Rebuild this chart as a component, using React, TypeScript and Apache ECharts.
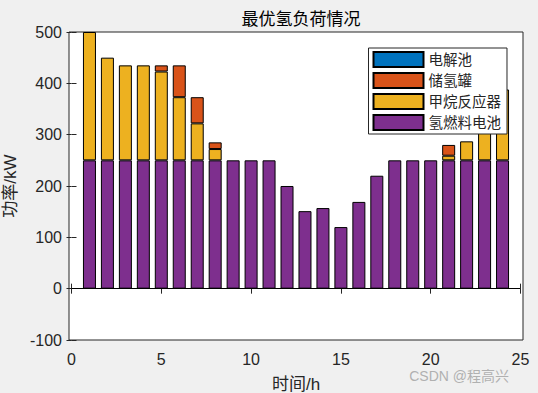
import React, { useEffect, useRef } from "react";
import * as echarts from "echarts";

const hourTicks = ["0", "1", "2", "3", "4", "5", "6", "7", "8", "9", "10", "11", "12", "13", "14", "15", "16", "17", "18", "19", "20", "21", "22", "23", "24", "25"];
// values for hours 1..24
const electrolyzer = [0, 0, 0, 0, 0, 0, 0, 0, 0, 0, 0, 0, 0, 0, 0, 0, 0, 0, 0, 0, 0, 0, 0, 0];
const storageTank = [0, 0, 0, 0, 12, 62, 51, 13, 0, 0, 0, 0, 0, 0, 0, 0, 0, 0, 0, 0, 21, 0, 0, 0];
const methaneReactor = [250, 200, 185, 185, 173, 123, 72, 22, 0, 0, 0, 0, 0, 0, 0, 0, 0, 0, 0, 0, 9, 37, 90, 138];
const fuelCell = [250, 250, 250, 250, 250, 250, 250, 250, 250, 250, 250, 200, 151, 157, 120, 169, 220, 250, 250, 250, 250, 250, 250, 250];

const seriesNames = ["电解池", "储氢罐", "甲烷反应器", "氢燃料电池"];
const colors = ["#0072BD", "#D95319", "#EDB120", "#7E2F8E"];

const FONT = "'Liberation Sans', 'Noto Sans CJK SC', sans-serif";
const TXT = "#262626";

export default function App() {
  const ref = useRef<HTMLDivElement>(null);
  useEffect(() => {
    if (!ref.current) return;
    const chart = echarts.init(ref.current, undefined, { renderer: "svg" });
    // pad with empty slots for hour 0 and hour 25 on the category axis;
    // zero-height segments get no border so stack tops are not thickened
    const padded = (arr: number[]) => [
      "-",
      ...arr.map((v) => (v === 0 ? { value: 0, itemStyle: { borderWidth: 0 } } : v)),
      "-",
    ];
    const mk = (name: string, color: string, arr: number[], extra: any = {}) => ({
      name,
      type: "bar",
      stack: "total",
      xAxisIndex: 2,
      yAxisIndex: 0,
      barWidth: 13,
      itemStyle: { color, borderColor: "#000", borderWidth: 1 },
      data: padded(arr),
      ...extra,
    });
    const tickAxisCommon = {
      axisLine: { show: false },
      splitLine: { show: false },
      axisTick: { show: true, inside: true, length: 5, lineStyle: { color: TXT } },
    };
    chart.setOption({
      animation: false,
      backgroundColor: "#f0f0f0",
      textStyle: { fontFamily: FONT },
      title: {
        text: "最优氢负荷情况",
        left: 296,
        top: 6,
        textAlign: "center",
        textStyle: { fontSize: 17, fontWeight: "normal", color: "#000", fontFamily: FONT },
      },
      legend: {
        data: seriesNames,
        orient: "vertical",
        right: 31,
        top: 48,
        itemWidth: 50,
        itemHeight: 15,
        itemGap: 4,
        padding: [3, 6, 3, 4],
        backgroundColor: "#fff",
        borderColor: "#262626",
        borderWidth: 1,
        borderRadius: 0,
        textStyle: { fontSize: 14.5, color: TXT, fontFamily: FONT },
        icon: "rect",
      },
      grid: { left: 71.5, right: 17.5, top: 32, bottom: 53, show: false, outerBoundsMode: "none", containLabel: false },
      xAxis: [
        {
          type: "value",
          min: 0,
          max: 25,
          interval: 5,
          position: "bottom",
          name: "时间/h",
          nameLocation: "middle",
          nameGap: 36,
          nameTextStyle: { fontSize: 17, color: TXT, fontFamily: FONT },
          axisLabel: { fontSize: 16, color: TXT, margin: 11, fontFamily: FONT },
          ...tickAxisCommon,
        },
        {
          type: "value",
          min: 0,
          max: 25,
          interval: 5,
          position: "top",
          axisLabel: { show: false },
          ...tickAxisCommon,
        },
        {
          type: "category",
          data: hourTicks,
          boundaryGap: false,
          show: false,
        },
      ],
      yAxis: [
        {
          type: "value",
          min: -100,
          max: 500,
          interval: 100,
          position: "left",
          offset: 2.5,
          name: "功率/kW",
          nameLocation: "middle",
          nameGap: 46,
          nameRotate: 90,
          nameTextStyle: { fontSize: 17, color: TXT, fontFamily: FONT },
          axisLabel: { fontSize: 16, color: TXT, margin: 7, fontFamily: FONT },
          ...tickAxisCommon,
        },
        {
          type: "value",
          min: -100,
          max: 500,
          interval: 100,
          position: "right",
          offset: 2.5,
          axisLabel: { show: false },
          ...tickAxisCommon,
        },
      ],
      graphic: [
        {
          type: "rect",
          z: -10,
          silent: true,
          shape: { x: 69, y: 32, width: 454, height: 308 },
          style: { fill: "#fff", stroke: TXT, lineWidth: 1 },
        },
        {
          type: "text",
          right: 29,
          top: 369,
          silent: true,
          style: { text: "CSDN @程高兴", fontSize: 14, fill: "#b0b0b0", fontFamily: FONT },
        },
      ],
      series: [
        mk(seriesNames[3], colors[3], fuelCell, {
          markLine: {
            silent: true,
            symbol: "none",
            label: { show: false },
            lineStyle: { color: "#000", width: 1, type: "solid" },
            data: [{ yAxis: 0 }],
          },
        }),
        mk(seriesNames[2], colors[2], methaneReactor),
        mk(seriesNames[1], colors[1], storageTank),
        mk(seriesNames[0], colors[0], electrolyzer),
      ],
    });
    return () => chart.dispose();
  }, []);
  return (
    <div
      ref={ref}
      style={{ position: "absolute", left: 0, top: 0, width: 538, height: 393 }}
    />
  );
}
